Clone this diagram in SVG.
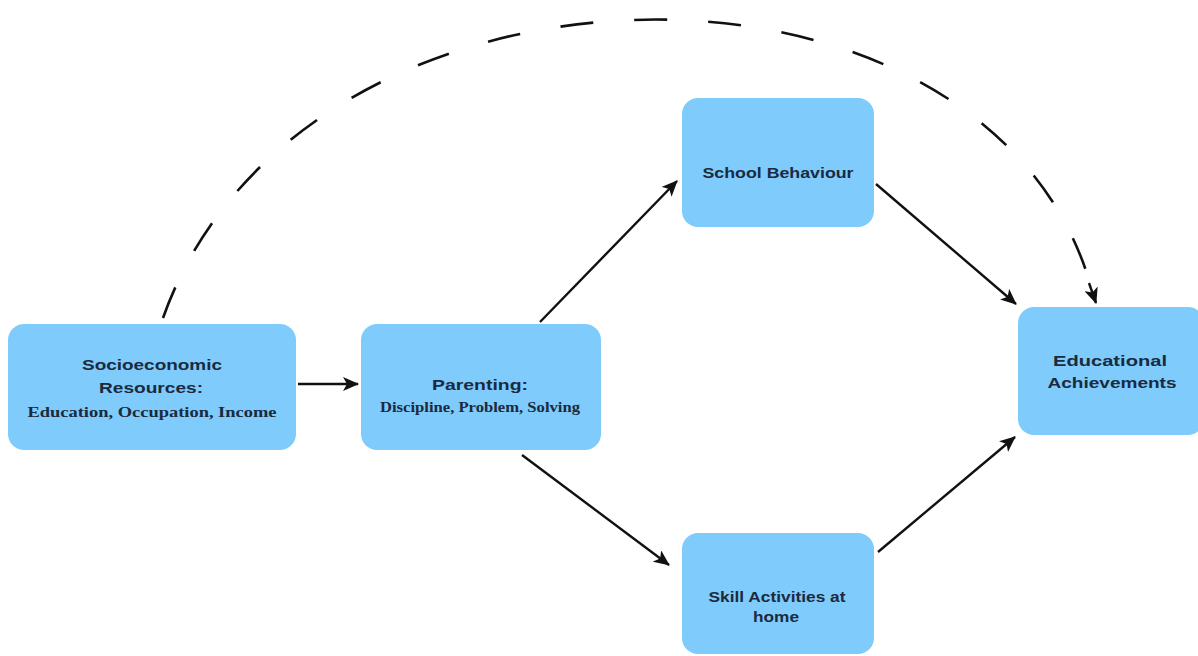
<svg xmlns="http://www.w3.org/2000/svg" width="1198" height="656" viewBox="0 0 1198 656">
<defs>
<marker id="ah" viewBox="0 0 16 14" refX="15" refY="7" markerWidth="16" markerHeight="14" markerUnits="userSpaceOnUse" orient="auto">
<path d="M0,0 L16,7 L0,14 L4,7 Z" fill="#111"/>
</marker>
<style>
.box{fill:#7fcbfb;}
.t{font-family:"Liberation Sans",Arial,sans-serif;font-weight:bold;font-size:15px;fill:#1b2a3e;text-anchor:middle;}
.s{font-family:"Liberation Serif","Times New Roman",serif;font-weight:bold;font-size:14px;fill:#1b2a3e;text-anchor:middle;}
.c{stroke:#111;stroke-width:2.4;fill:none;marker-end:url(#ah);}
.d{stroke:#111;stroke-width:2.6;fill:none;stroke-dasharray:33 41;}
</style>
</defs>
<rect width="1198" height="656" fill="#ffffff"/>
<g id="connectors">
<path class="d" d="M163,318 C300,-70 990,-80 1092,290"/>
<path class="c" d="M1089,283 L1096,303"/>
<line class="c" x1="298" y1="384" x2="358" y2="384"/>
<line class="c" x1="540" y1="322" x2="677" y2="181"/>
<line class="c" x1="522" y1="455" x2="669" y2="565"/>
<line class="c" x1="876" y1="184" x2="1016" y2="304"/>
<line class="c" x1="878" y1="552" x2="1015" y2="437"/>
</g>
<g id="socio">
<rect class="box" x="8" y="324" width="288" height="126" rx="16"/>
<text class="t" x="152" y="370" textLength="140" lengthAdjust="spacingAndGlyphs">Socioeconomic</text>
<text class="t" x="151" y="393" textLength="104" lengthAdjust="spacingAndGlyphs">Resources:</text>
<text class="s" x="152" y="417" textLength="249" lengthAdjust="spacingAndGlyphs">Education, Occupation, Income</text>
</g>
<g id="parenting">
<rect class="box" x="361" y="324" width="240" height="126" rx="16"/>
<text class="t" x="480" y="390" textLength="96" lengthAdjust="spacingAndGlyphs">Parenting:</text>
<text class="s" x="480" y="412" textLength="200" lengthAdjust="spacingAndGlyphs">Discipline, Problem, Solving</text>
</g>
<g id="school">
<rect class="box" x="682" y="98" width="192" height="129" rx="16"/>
<text class="t" x="778" y="178" textLength="151" lengthAdjust="spacingAndGlyphs">School Behaviour</text>
</g>
<g id="skill">
<rect class="box" x="682" y="533" width="192" height="121" rx="16"/>
<text class="t" x="777" y="602" textLength="137" lengthAdjust="spacingAndGlyphs">Skill Activities at</text>
<text class="t" x="776" y="622" textLength="46" lengthAdjust="spacingAndGlyphs">home</text>
</g>
<g id="edu">
<rect class="box" x="1018" y="307" width="186" height="128" rx="16"/>
<text class="t" x="1110" y="366" textLength="114" lengthAdjust="spacingAndGlyphs">Educational</text>
<text class="t" x="1112" y="388" textLength="129" lengthAdjust="spacingAndGlyphs">Achievements</text>
</g>
</svg>
